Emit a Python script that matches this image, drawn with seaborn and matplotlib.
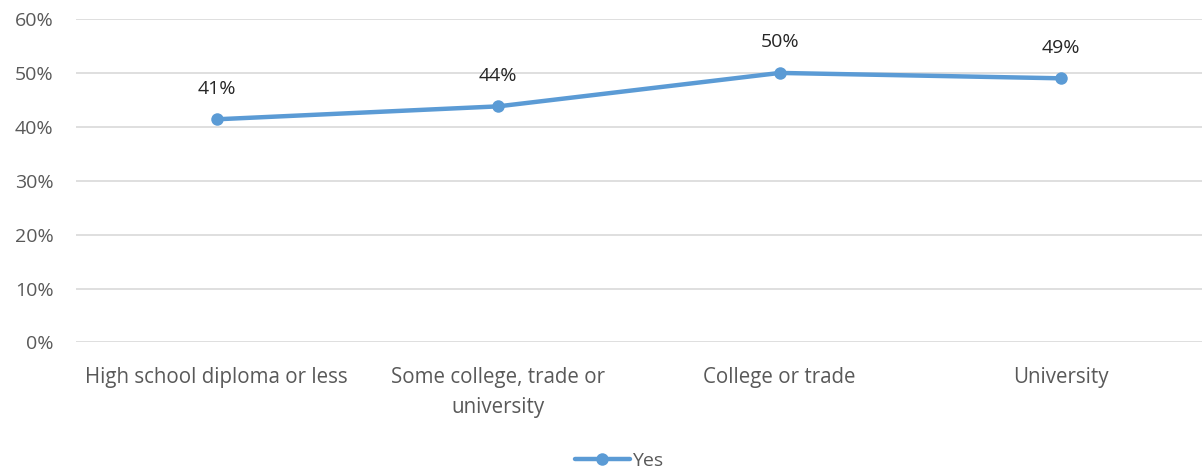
import matplotlib
matplotlib.use("Agg")
import matplotlib.pyplot as plt
import seaborn as sns
import pandas as pd
from matplotlib.ticker import PercentFormatter

categories = ["High school diploma or less", "Some college, trade or\nuniversity",
              "College or trade", "University"]
yes_values = [41.4, 43.8, 50.0, 49.0]
labels = ["41%", "44%", "50%", "49%"]
series_name = "Yes"

df = pd.DataFrame({"cat": categories, "val": yes_values, "series": series_name})

sns.set_style("white")
plt.rcParams["font.family"] = ["Open Sans", "DejaVu Sans"]

color = "#5B9BD5"
fs = 14
fig = plt.figure(figsize=(12.02, 4.73), dpi=100)
ax = fig.add_axes([0.0632, 0.2759, 0.9368, 0.6839])

sns.lineplot(data=df, x="cat", y="val", hue="series", palette=[color],
             marker="o", markersize=9, linewidth=3.2, markeredgewidth=0,
             sort=False, ax=ax, legend=True)

ax.set_ylim(0, 60)
ax.set_yticks(range(0, 61, 10))
ax.yaxis.set_major_formatter(PercentFormatter(decimals=0))
ax.set_xlim(-0.5, 3.5)
ax.grid(axis="y", color="#D9D9D9", linewidth=1.2)
ax.grid(axis="x", visible=False)
for s in ax.spines.values():
    s.set_visible(False)
ax.set_xlabel("")
ax.set_ylabel("")
ax.tick_params(axis="both", length=0, labelsize=fs, labelcolor="#595959")
ax.tick_params(axis="x", labelsize=14.8)
ax.tick_params(axis="y", pad=16)
ax.tick_params(axis="x", pad=18)
for lbl in ax.get_xticklabels():
    lbl.set_verticalalignment("top")
    lbl.set_linespacing(1.55)

for i, (v, t) in enumerate(zip(yes_values, labels)):
    ax.annotate(t, (i, v), xytext=(0, 22), textcoords="offset points",
                ha="center", va="center", fontsize=fs, color="#262626")

handles, lbls = ax.get_legend_handles_labels()
ax.legend_.remove()
fig.legend(handles, lbls, loc="center", bbox_to_anchor=(0.515, 0.025),
           frameon=False, fontsize=fs, labelcolor="#595959",
           handlelength=2.8, handletextpad=0.1)

fig.savefig("out.png", dpi=100)
